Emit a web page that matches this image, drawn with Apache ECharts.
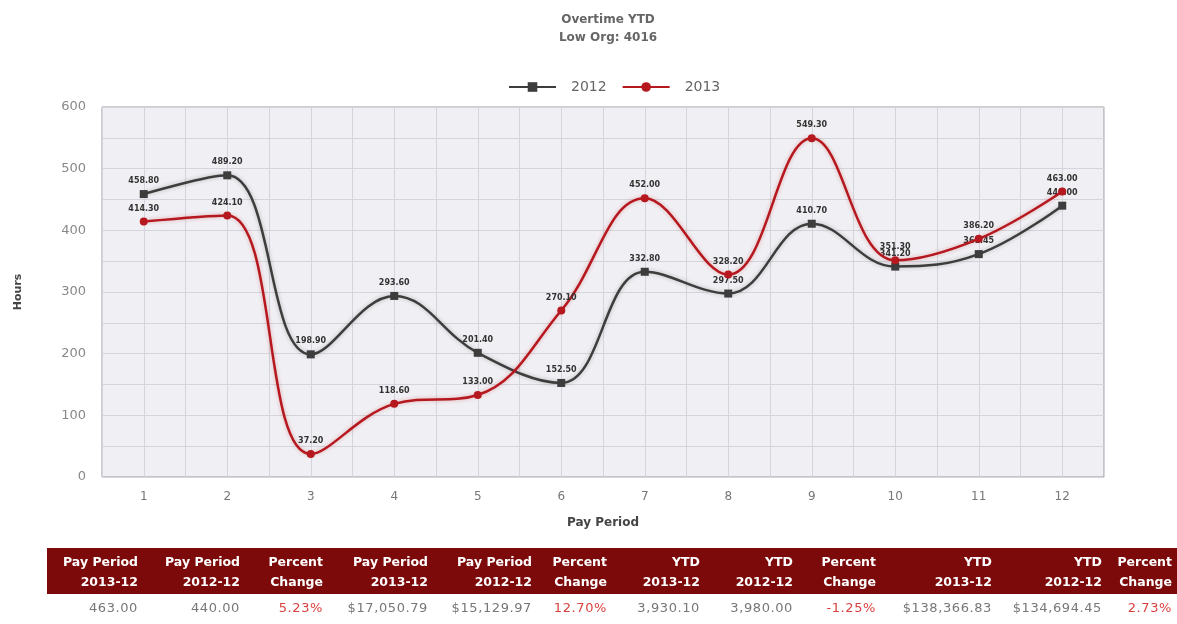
<!DOCTYPE html>
<html>
<head>
<meta charset="utf-8">
<script src="https://cdn.jsdelivr.net/npm/echarts@6/dist/echarts.min.js"></script>
<style>
  html, body { margin: 0; padding: 0; background: #fff; }
  #wrap { position: relative; width: 1177px; height: 624px; overflow: hidden; }
  #chart { position: absolute; left: 0; top: 0; width: 1177px; height: 624px; }
  #tbl { position: absolute; left: 47px; top: 548px; border-collapse: collapse; font-family: "DejaVu Sans", sans-serif; }
  #tbl th { background: #7d0a0a; color: #fff; font-weight: bold; font-size: 12.5px; line-height: 20px; text-align: right; padding: 4px 0 2px 0; white-space: nowrap; }
  #tbl td { color: #777; font-size: 13px; letter-spacing: 0.6px; text-align: right; padding: 6px 0 0 0; white-space: nowrap; }
  #tbl td.pct { color: #d9413f; }
</style>
</head>
<body>
<div id="wrap">
  <div id="chart"></div>
  <table id="tbl"><thead><tr id="hrow"></tr></thead><tbody><tr id="vrow"></tr></tbody></table>
</div>
<script>
// ---- data ----
var periods = [1, 2, 3, 4, 5, 6, 7, 8, 9, 10, 11, 12];
var hours2012 = [458.80, 489.20, 198.90, 293.60, 201.40, 152.50, 332.80, 297.50, 410.70, 341.20, 361.45, 440.00];
var hours2013 = [414.30, 424.10, 37.20, 118.60, 133.00, 270.10, 452.00, 328.20, 549.30, 351.30, 386.20, 463.00];
var seriesNames = ['2012', '2013'];
var yTicks = [0, 100, 200, 300, 400, 500, 600];

var tableHeaderTop = ['Pay Period', 'Pay Period', 'Percent', 'Pay Period', 'Pay Period', 'Percent', 'YTD', 'YTD', 'Percent', 'YTD', 'YTD', 'Percent'];
var tableHeaderBottom = ['2013-12', '2012-12', 'Change', '2013-12', '2012-12', 'Change', '2013-12', '2012-12', 'Change', '2013-12', '2012-12', 'Change'];
var tableValues = ['463.00', '440.00', '5.23%', '$17,050.79', '$15,129.97', '12.70%', '3,930.10', '3,980.00', '-1.25%', '$138,366.83', '$134,694.45', '2.73%'];
var tableIsPct = [false, false, true, false, false, true, false, false, true, false, false, true];

// ---- table ----
var colWidths = [91, 102, 83, 105, 104, 75, 93, 93, 83, 116, 110, 70];
var hrow = document.getElementById('hrow');
var vrow = document.getElementById('vrow');
for (var i = 0; i < tableHeaderTop.length; i++) {
  var th = document.createElement('th');
  th.style.width = colWidths[i] + 'px';
  if (i === tableHeaderTop.length - 1) th.style.paddingRight = '5px';
  th.innerHTML = tableHeaderTop[i] + '<br>' + tableHeaderBottom[i];
  hrow.appendChild(th);
  var td = document.createElement('td');
  if (tableIsPct[i]) td.className = 'pct';
  if (i === tableHeaderTop.length - 1) td.style.paddingRight = '5px';
  td.textContent = tableValues[i];
  vrow.appendChild(td);
}

// ---- chart ----
function pairs(vals) { return periods.map(function (p, i) { return [p, vals[i]]; }); }
var chart = echarts.init(document.getElementById('chart'));
var labelStyle = {
  show: true, position: 'top', distance: 5,
  fontSize: 8, fontWeight: 'bold', color: '#333', fontFamily: 'DejaVu Sans',
  formatter: function (p) { return p.value[1].toFixed(2); }
};
chart.setOption({
  animation: false,
  title: {
    text: 'Overtime YTD\nLow Org: 4016',
    left: 603, top: 6, textAlign: 'center',
    textStyle: { fontSize: 12, fontWeight: 'bold', color: '#666', lineHeight: 18, fontFamily: 'DejaVu Sans' }
  },
  legend: {
    top: 75, left: 503,
    data: seriesNames,
    itemWidth: 47, itemHeight: 12, itemGap: 15,
    textStyle: { fontSize: 14, color: '#666', fontFamily: 'DejaVu Sans', padding: [0, 0, 0, 10] }
  },
  grid: {
    left: 102, right: 73, top: 107, bottom: 147,
    show: true, backgroundColor: '#f0f0f4', borderColor: '#9a9a9a', borderWidth: 1
  },
  xAxis: {
    type: 'value', min: 0.5, max: 12.5, interval: 0.5,
    name: 'Pay Period', nameLocation: 'middle', nameGap: 40,
    nameTextStyle: { fontSize: 12, fontWeight: 'bold', color: '#444', fontFamily: 'DejaVu Sans' },
    axisLine: { show: false }, axisTick: { show: false },
    axisLabel: {
      margin: 14, fontSize: 12, color: '#777', fontFamily: 'DejaVu Sans',
      formatter: function (v) { return (Math.abs(v - Math.round(v)) < 1e-6 && periods.indexOf(Math.round(v)) >= 0) ? String(Math.round(v)) : ''; }
    },
    splitLine: { show: true, lineStyle: { color: '#d4d4dc', width: 1 } }
  },
  yAxis: {
    type: 'value', min: yTicks[0], max: yTicks[yTicks.length - 1], interval: 50,
    name: 'Hours', nameLocation: 'middle', nameGap: 78, nameRotate: 90,
    nameTextStyle: { fontSize: 11, fontWeight: 'bold', color: '#444', fontFamily: 'DejaVu Sans' },
    axisLine: { show: false }, axisTick: { show: false },
    axisLabel: {
      margin: 16, fontSize: 13, color: '#888', fontFamily: 'DejaVu Sans',
      formatter: function (v) { return yTicks.indexOf(v) >= 0 ? String(v) : ''; }
    },
    splitLine: { show: true, lineStyle: { color: '#d4d4dc', width: 1 } }
  },
  series: [
    {
      name: seriesNames[0], type: 'line', smooth: 0.4,
      data: pairs(hours2012),
      symbol: 'rect', symbolSize: 8,
      itemStyle: { color: '#3d3d3d' },
      lineStyle: { color: '#3d3d3d', width: 2.5, shadowColor: 'rgba(0,0,0,0.25)', shadowBlur: 4 },
      label: labelStyle, z: 3
    },
    {
      name: seriesNames[1], type: 'line', smooth: 0.4,
      data: pairs(hours2013),
      symbol: 'circle', symbolSize: 8,
      itemStyle: { color: '#b5181e' },
      lineStyle: { color: '#b5181e', width: 2.5, shadowColor: 'rgba(180,0,0,0.3)', shadowBlur: 4 },
      label: labelStyle, z: 4
    }
  ]
});
</script>
</body>
</html>
